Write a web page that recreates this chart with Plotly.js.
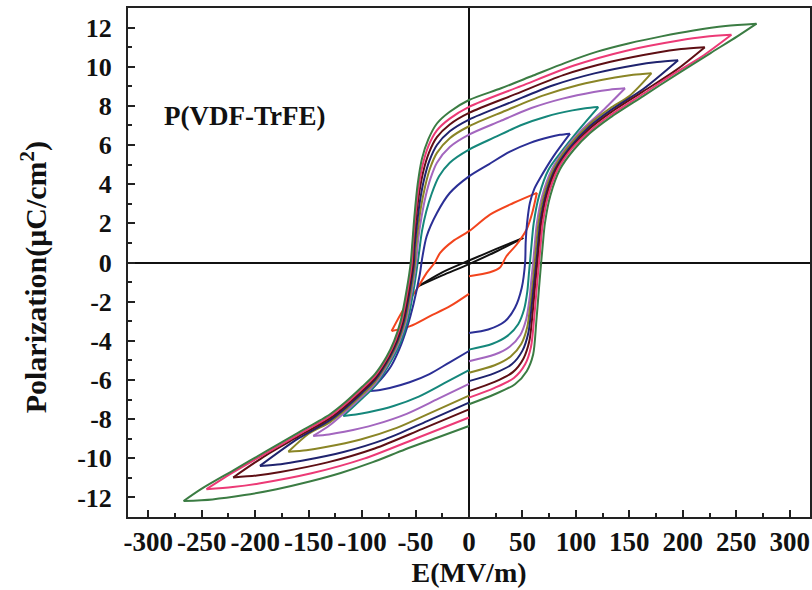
<!DOCTYPE html>
<html>
<head>
<meta charset="utf-8">
<script src="https://cdn.plot.ly/plotly-3.0.1.min.js"></script>
<style>html,body{margin:0;padding:0;background:#fff;}#chart{width:812px;height:590px;}</style>
</head>
<body>
<div id="chart"></div>
<script>
// ---------- axis ticks ----------
const xTickVals = [-300, -250, -200, -150, -100, -50, 0, 50, 100, 150, 200, 250, 300];
const xTickText = ["-300", "-250", "-200", "-150", "-100", "-50", "0", "50", "100", "150", "200", "250", "300"];
const yTickVals = [-12, -10, -8, -6, -4, -2, 0, 2, 4, 6, 8, 10, 12];
const yTickText = ["-12", "-10", "-8", "-6", "-4", "-2", "0", "2", "4", "6", "8", "10", "12"];

// ---------- loop data: E (MV/m), P (uC/cm2) ----------
// black (smallest loop)
const blackUpE = [50.8, 25, 0, -25, -47.4];
const blackUpP = [1.26, 0.68, 0.1, -0.5, -1.21];
const blackLoE = [-47.4, -25, 0, 25, 50.8];
const blackLoP = [-1.21, -0.66, -0.08, 0.55, 1.26];

// red
const redUpE = [63.5, 41.5, 19.6, 0, -15, -27, -32, -39.6, -49, -61.4, -72.4];
const redUpP = [3.56, 3.04, 2.45, 1.6, 1.09, 0.49, 0, -0.53, -1.38, -2.4, -3.5];
const redLoLE = [-72.4, -55, -36.5, -17.8, 0];
const redLoLP = [-3.5, -3.25, -2.74, -2.23, -1.6];
const redLoRE = [0, 19.6, 29, 35, 44.6, 54, 59, 63.5];
const redLoRP = [-0.7, -0.5, -0.26, 0.32, 0.92, 1.7, 2.5, 3.56];

// blue
const blueUpE = [94.5, 85, 75.6, 56.7, 37.8, 18.9, 0, -18, -30, -39.6, -44, -46, -52, -58, -65, -73, -82, -92.6];
const blueUpP = [6.58, 6.52, 6.41, 6.1, 5.65, 5.03, 4.4, 3.55, 2.53, 1.34, 0.15, -0.6, -2.14, -3.33, -4.4, -5.3, -5.95, -6.57];
const blueLoLE = [-92.6, -83.3, -74.1, -55.6, -37, -18.5, 0];
const blueLoLP = [-6.57, -6.51, -6.41, -6.12, -5.7, -5.11, -4.52];
const blueLoRE = [0, 18, 33.7, 43, 49.3, 52.5, 53, 54.5, 57, 61, 66.4, 79, 94.5];
const blueLoRP = [-3.6, -3.42, -3.0, -2.31, -1.3, 0, 1.0, 2.1, 3.05, 3.75, 4.3, 5.42, 6.58];

// teal
const tealUpE = [121, 108.9, 96.8, 72.6, 48.4, 24.2, 0, -18, -28, -35, -40, -44, -46.5, -48, -51.5, -57.5, -63.5, -70.5, -88, -100, -117.6];
const tealUpP = [7.94, 7.88, 7.77, 7.46, 7.01, 6.4, 5.77, 5.1, 4.4, 3.5, 2.6, 1.6, 0.6, 0, -1.3, -3.0, -4.0, -4.8, -6.3, -6.95, -7.84];
const tealLoLE = [-117.6, -105.8, -94.1, -70.6, -47, -23.5, 0];
const tealLoLP = [-7.84, -7.77, -7.65, -7.33, -6.85, -6.18, -5.5];
const tealLoRE = [0, 22, 36, 46, 51.5, 54.5, 56, 57, 58.5, 60.5, 65.5, 74.5, 87, 100, 121];
const tealLoRP = [-4.45, -4.15, -3.75, -3.15, -2.4, -1.5, -0.6, 0, 0.9, 2.0, 3.4, 4.75, 5.7, 6.6, 7.94];

// violet
const violetUpE = [146, 131.4, 116.8, 87.6, 58.4, 29.2, 0, -18, -30, -36, -40.5, -44.5, -47.5, -49.5, -53, -59, -65, -72, -88, -100, -115, -130, -145.7];
const violetUpP = [8.9, 8.83, 8.71, 8.37, 7.89, 7.22, 6.53, 5.9, 5.1, 4.3, 3.4, 2.3, 1.2, 0, -1.3, -3.0, -4.0, -4.8, -6.2, -6.85, -7.6, -8.3, -8.86];
const violetLoLE = [-145.7, -131.1, -116.6, -87.4, -58.3, -29.1, 0];
const violetLoLP = [-8.86, -8.78, -8.65, -8.27, -7.73, -6.97, -6.2];
const violetLoRE = [0, 24, 38, 48, 53.5, 56.5, 58.5, 60, 61.5, 63.5, 68.5, 77.5, 90, 105, 125, 146];
const violetLoRP = [-5.04, -4.7, -4.3, -3.7, -2.9, -1.9, -0.8, 0, 0.9, 2.0, 3.4, 4.75, 5.8, 6.75, 7.75, 8.9];

// olive
const oliveUpE = [170.7, 153.6, 136.6, 102.4, 68.3, 34.1, 0, -18, -30, -36.5, -41, -45, -48, -50, -50.5, -54, -60, -66, -73, -88, -100, -115, -130, -150, -169];
const oliveUpP = [9.67, 9.59, 9.45, 9.07, 8.51, 7.75, 6.96, 6.35, 5.6, 4.8, 3.9, 2.8, 1.6, 0.6, 0, -1.3, -3.0, -4.0, -4.8, -6.1, -6.75, -7.5, -8.15, -8.75, -9.67];
const oliveLoLE = [-169, -152.1, -135.2, -101.4, -67.6, -33.8, 0];
const oliveLoLP = [-9.67, -9.59, -9.44, -9.04, -8.45, -7.63, -6.8];
const oliveLoRE = [0, 24, 39, 49, 54.5, 57.5, 60, 61.5, 63, 65, 70, 79, 92, 113, 132, 150, 170.7];
const oliveLoRP = [-5.63, -5.25, -4.8, -4.15, -3.3, -2.1, -0.9, 0, 0.9, 2.0, 3.4, 4.75, 5.85, 7.08, 7.88, 8.5, 9.67];

// navy
const navyUpE = [195.6, 176, 156.5, 117.4, 78.2, 39.1, 0, -18, -30, -37, -42, -46, -49, -51, -51.5, -55, -61, -67, -74, -88, -100, -115, -130, -160, -195.6];
const navyUpP = [10.33, 10.24, 10.09, 9.66, 9.04, 8.18, 7.3, 6.7, 6.0, 5.2, 4.25, 3.1, 1.8, 0.7, 0, -1.3, -3.0, -4.0, -4.8, -6.0, -6.65, -7.4, -8.05, -9.0, -10.39];
const navyLoLE = [-195.6, -176, -156.5, -117.4, -78.2, -39.1, 0];
const navyLoLP = [-10.39, -10.3, -10.13, -9.68, -9.02, -8.1, -7.16];
const navyLoRE = [0, 24, 40, 50, 55.5, 58.5, 61, 63, 64.5, 66.5, 71.5, 80.5, 94, 113, 132, 163, 195.6];
const navyLoRP = [-6.06, -5.65, -5.2, -4.5, -3.6, -2.3, -1.0, 0, 0.9, 2.0, 3.4, 4.75, 5.85, 6.96, 7.76, 8.86, 10.33];

// brown
const brownUpE = [220.6, 198.5, 176.5, 132.4, 88.2, 44.1, 0, -18, -30, -37.5, -43, -47, -50, -52, -52.5, -56, -62, -68, -75, -88, -100, -115, -130, -160, -190, -220.6];
const brownUpP = [11.0, 10.9, 10.73, 10.25, 9.57, 8.61, 7.64, 7.05, 6.4, 5.6, 4.6, 3.4, 2.0, 0.8, 0, -1.3, -3.0, -4.0, -4.8, -5.9, -6.55, -7.3, -7.95, -8.9, -9.85, -10.98];
const brownLoLE = [-220.6, -198.5, -176.5, -132.4, -88.2, -44.1, 0];
const brownLoLP = [-10.98, -10.88, -10.7, -10.21, -9.5, -8.51, -7.5];
const brownLoRE = [0, 24, 41, 51, 56.5, 59.5, 62, 64, 65.5, 67.5, 72.5, 81.5, 95, 113, 132, 163, 194, 220.6];
const brownLoRP = [-6.57, -6.1, -5.6, -4.9, -4.0, -2.6, -1.1, 0, 0.9, 2.0, 3.4, 4.75, 5.8, 6.84, 7.64, 8.74, 9.84, 11.0];

// pink
const pinkUpE = [245.5, 221, 196.4, 147.3, 98.2, 49.1, 0, -18, -30, -38, -43.5, -47.5, -50.5, -52.5, -53.5, -57, -63, -69, -76, -88, -100, -115, -130, -160, -190, -220, -245.6];
const pinkUpP = [11.63, 11.53, 11.34, 10.82, 10.06, 9.02, 7.95, 7.35, 6.75, 5.95, 4.95, 3.7, 2.2, 0.9, 0, -1.3, -3.0, -4.0, -4.8, -5.8, -6.45, -7.2, -7.85, -8.8, -9.75, -10.7, -11.58];
const pinkLoLE = [-245.6, -221, -196.5, -147.4, -98.2, -49.1, 0];
const pinkLoLP = [-11.58, -11.47, -11.29, -10.77, -10.02, -8.98, -7.92];
const pinkLoRE = [0, 24, 42, 52.5, 58, 61, 63.5, 65.5, 67, 69, 74, 83, 96, 113, 132, 163, 194, 220, 245.5];
const pinkLoRP = [-6.9, -6.4, -5.9, -5.2, -4.3, -2.8, -1.2, 0, 0.9, 2.0, 3.4, 4.75, 5.8, 6.72, 7.52, 8.62, 9.72, 10.6, 11.63];

// green (largest loop)
const greenUpE = [269, 240, 210, 180, 150, 120, 90, 60, 30, 0, -18, -30, -38, -44, -48, -51, -53, -54.5, -58, -64, -70, -77, -88, -100, -115, -130, -160, -190, -220, -250, -267];
const greenUpP = [12.2, 12.08, 11.85, 11.55, 11.2, 10.77, 10.2, 9.55, 8.9, 8.3, 7.7, 7.1, 6.3, 5.3, 4.0, 2.4, 1.0, 0, -1.3, -3.0, -4.0, -4.8, -5.7, -6.35, -7.1, -7.75, -8.7, -9.65, -10.6, -11.55, -12.18];
const greenLoLE = [-267, -240, -210, -180, -150, -120, -90, -60, -30, 0];
const greenLoLP = [-12.18, -12.1, -11.88, -11.58, -11.2, -10.75, -10.2, -9.55, -8.95, -8.35];
const greenLoRE = [0, 24, 43, 54, 60, 63, 65.5, 67.5, 69, 71, 76, 85, 98, 113, 132, 163, 194, 226, 251, 269];
const greenLoRP = [-7.24, -6.73, -6.22, -5.55, -4.7, -3.0, -1.3, 0, 0.9, 2.0, 3.4, 4.75, 5.76, 6.6, 7.4, 8.5, 9.6, 10.7, 11.55, 12.2];

// ---------- styles ----------
const loopColors = {
  black: "#111111", red: "#f2441d", blue: "#2b2f95", teal: "#15877b", violet: "#a366bf",
  olive: "#8a8526", navy: "#1f236e", brown: "#5e0f14", pink: "#ec3a76", green: "#3b7c43"
};

const segments = [
  ["black", [blackUpE, blackUpP], [blackLoE, blackLoP]],
  ["red", [redUpE, redUpP], [redLoLE, redLoLP], [redLoRE, redLoRP]],
  ["blue", [blueUpE, blueUpP], [blueLoLE, blueLoLP], [blueLoRE, blueLoRP]],
  ["teal", [tealUpE, tealUpP], [tealLoLE, tealLoLP], [tealLoRE, tealLoRP]],
  ["violet", [violetUpE, violetUpP], [violetLoLE, violetLoLP], [violetLoRE, violetLoRP]],
  ["olive", [oliveUpE, oliveUpP], [oliveLoLE, oliveLoLP], [oliveLoRE, oliveLoRP]],
  ["navy", [navyUpE, navyUpP], [navyLoLE, navyLoLP], [navyLoRE, navyLoRP]],
  ["brown", [brownUpE, brownUpP], [brownLoLE, brownLoLP], [brownLoRE, brownLoRP]],
  ["pink", [pinkUpE, pinkUpP], [pinkLoLE, pinkLoLP], [pinkLoRE, pinkLoRP]],
  ["green", [greenUpE, greenUpP], [greenLoLE, greenLoLP], [greenLoRE, greenLoRP]]
];

const traces = [];
segments.forEach(function (seg) {
  const name = seg[0];
  for (let i = 1; i < seg.length; i++) {
    traces.push({
      x: seg[i][0], y: seg[i][1], type: "scatter", mode: "lines",
      line: {color: loopColors[name], width: 2, shape: "spline", smoothing: 0.8},
      hoverinfo: "skip", showlegend: false
    });
  }
});

const fontFam = "Liberation Serif, Times New Roman, serif";
const layout = {
  width: 812, height: 590,
  margin: {l: 128, r: 2, t: 8, b: 73},
  paper_bgcolor: "#ffffff", plot_bgcolor: "#ffffff",
  showlegend: false,
  font: {family: fontFam, color: "#111111"},
  xaxis: {
    range: [-319, 319], tickmode: "array", tickvals: xTickVals, ticktext: xTickText,
    ticks: "inside", ticklen: 7, tickwidth: 2, tickcolor: "#222222",
    minor: {ticks: "inside", ticklen: 4, tickwidth: 2, tickcolor: "#222222", dtick: 25, tick0: 0},
    showline: true, linewidth: 2, linecolor: "#222222", mirror: true,
    showgrid: false, zeroline: true, zerolinecolor: "#111111", zerolinewidth: 2,
    tickfont: {family: fontFam, size: 27, weight: 700, color: "#111111"},
    ticklabelstandoff: 0,
    title: {text: "E(MV/m)", font: {family: fontFam, size: 28, weight: 700, color: "#111111"}, standoff: 0},
    automargin: false
  },
  yaxis: {
    range: [-13, 13], tickmode: "array", tickvals: yTickVals, ticktext: yTickText,
    ticks: "inside", ticklen: 7, tickwidth: 2, tickcolor: "#222222",
    minor: {ticks: "inside", ticklen: 4, tickwidth: 2, tickcolor: "#222222", dtick: 1, tick0: 0},
    showline: true, linewidth: 2, linecolor: "#222222", mirror: true,
    showgrid: false, zeroline: true, zerolinecolor: "#111111", zerolinewidth: 2,
    tickfont: {family: fontFam, size: 26, weight: 700, color: "#111111"},
    ticklabelstandoff: 9,
    automargin: false
  },
  annotations: [{
    x: -287, y: 7.5, xref: "x", yref: "y", xanchor: "left", yanchor: "middle",
    text: "P(VDF-TrFE)", showarrow: false,
    font: {family: fontFam, size: 27, weight: 700, color: "#111111"}
  }, {
    x: -0.137, y: 0.47, xref: "paper", yref: "paper", xanchor: "center", yanchor: "middle",
    text: "Polarization(μC/cm<sup>2</sup>)", showarrow: false, textangle: -90,
    font: {family: fontFam, size: 30, weight: 700, color: "#111111"}
  }]
};

Plotly.newPlot("chart", traces, layout, {displayModeBar: false, staticPlot: true});
</script>
</body>
</html>
